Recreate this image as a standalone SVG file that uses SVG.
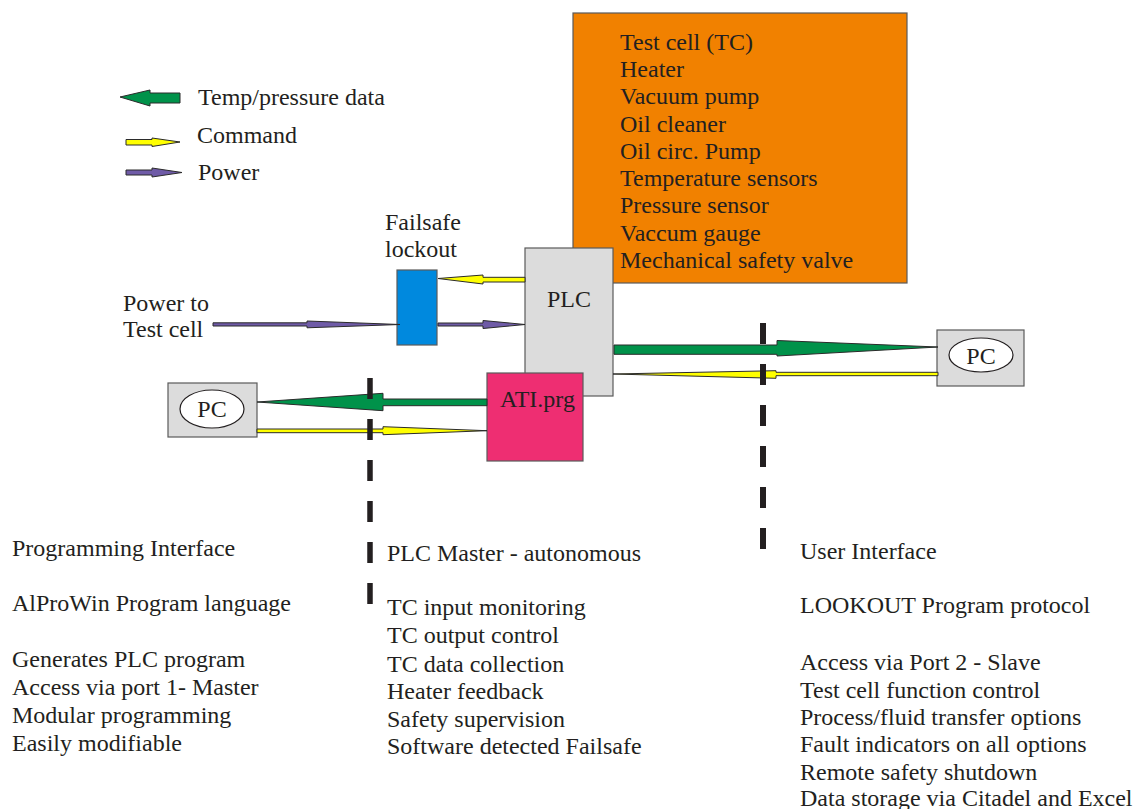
<svg xmlns="http://www.w3.org/2000/svg" width="1145" height="809" viewBox="0 0 1145 809">
<style>
text{font-family:"Liberation Serif","Times New Roman",serif;font-size:24px;fill:#231f20}
.box{stroke:#5a5a5a;stroke-width:1.2}
.gray{fill:#dcdcdc}
.arr{stroke:#2b2b2b;stroke-width:1;stroke-linejoin:miter}
.g{fill:#00924a}
.y{fill:#ffff00}
.p{fill:#6f5ba7}
.dash{stroke:#231f20;stroke-dasharray:21 20}
.ell{fill:#ffffff;stroke:#231f20;stroke-width:1.2}
.mid{text-anchor:middle}
</style>
<rect width="1145" height="809" fill="#ffffff"/>

<g id="legend">
  <polygon class="arr g" points="120,97 150,90 150,93 180,93 180,103 150,103 150,106"/>
  <text x="198" y="105">Temp/pressure data</text>
  <polygon class="arr y" points="126,139.5 152,139.5 152,138 180,142 152,146.5 152,145 126,145"/>
  <text x="197" y="143">Command</text>
  <polygon class="arr p" points="126,170 152,170 152,168 182,172.5 152,177 152,175 126,175"/>
  <text x="198" y="180">Power</text>
</g>

<g id="testcell">
  <rect class="box" x="573" y="13" width="334" height="270" fill="#f18100"/>
  <text x="620" y="50">Test cell (TC)</text>
  <text x="620" y="77">Heater</text>
  <text x="620" y="104">Vacuum pump</text>
  <text x="620" y="131.5">Oil cleaner</text>
  <text x="620" y="158.5">Oil circ. Pump</text>
  <text x="620" y="186">Temperature sensors</text>
  <text x="620" y="213">Pressure sensor</text>
  <text x="620" y="240.5">Vaccum gauge</text>
  <text x="620" y="268">Mechanical safety valve</text>
</g>

<g id="plc">
  <rect class="box gray" x="525" y="248" width="88" height="148"/>
  <text class="mid" x="569" y="307">PLC</text>
</g>

<g id="failsafe">
  <text x="385" y="230">Failsafe</text>
  <text x="385" y="257">lockout</text>
  <rect class="box" x="397" y="270" width="40" height="75" fill="#0089de"/>
</g>

<g id="power-label">
  <text x="123" y="311">Power to</text>
  <text x="123" y="337">Test cell</text>
</g>

<g id="ati">
  <rect class="box" x="487" y="373" width="96" height="88" fill="#ee2e72"/>
  <text x="500" y="407">ATI.prg</text>
</g>

<g id="pc-left">
  <rect class="box gray" x="168" y="383" width="89" height="54"/>
  <ellipse class="ell" cx="212" cy="409" rx="32" ry="19"/>
  <text class="mid" x="212" y="417">PC</text>
</g>

<g id="pc-right">
  <rect class="box gray" x="937" y="330" width="87" height="56"/>
  <ellipse class="ell" cx="981" cy="355" rx="32" ry="17"/>
  <text class="mid" x="981" y="364">PC</text>
</g>

<g id="connectors">
  <polygon class="arr p" points="213,322.8 307,322.8 307,321 400,324.5 307,327.8 307,326 213,326"/>
  <polygon class="arr p" points="438,323 483,323 483,320.5 525,324.5 483,328.5 483,326 438,326"/>
  <polygon class="arr y" points="525,277.3 483,277.3 483,275 438,278.5 483,284 483,282 525,282"/>
  <polygon class="arr g" points="614,345 777,345 777,340.5 938,347 777,356 777,354.3 614,354.3"/>
  <polygon class="arr y" points="938,372.3 776,372.3 776,370.7 613,374 776,378.3 776,375.7 938,375.7"/>
  <polygon class="arr g" points="487,399 383,399 383,393.3 257,402 383,410.7 383,405.7 487,405.7"/>
  <polygon class="arr y" points="257,429 383,429 383,426.7 487,430.7 383,434.7 383,432.7 257,432.7"/>
</g>

<g id="dividers">
  <line class="dash" x1="370" y1="378" x2="370" y2="604" stroke-width="5.5"/>
  <line class="dash" x1="763" y1="323" x2="763" y2="549" stroke-width="6"/>
</g>

<g id="col-left">
  <text x="12" y="556">Programming Interface</text>
  <text x="12" y="611">AlProWin Program language</text>
  <text x="12" y="667">Generates PLC program</text>
  <text x="12" y="695">Access via port 1- Master</text>
  <text x="12" y="723">Modular programming</text>
  <text x="12" y="751">Easily modifiable</text>
</g>

<g id="col-mid">
  <text x="387" y="561">PLC Master - autonomous</text>
  <text x="387" y="615">TC input monitoring</text>
  <text x="387" y="643">TC output control</text>
  <text x="387" y="671.5">TC data collection</text>
  <text x="387" y="699">Heater feedback</text>
  <text x="387" y="726.5">Safety supervision</text>
  <text x="387" y="754">Software detected Failsafe</text>
</g>

<g id="col-right">
  <text x="800" y="559">User Interface</text>
  <text x="800" y="613">LOOKOUT Program protocol</text>
  <text x="800" y="670">Access via Port 2 - Slave</text>
  <text x="800" y="697.5">Test cell function control</text>
  <text x="800" y="725">Process/fluid transfer options</text>
  <text x="800" y="752">Fault indicators on all options</text>
  <text x="800" y="779.5">Remote safety shutdown</text>
  <text x="800" y="806">Data storage via Citadel and Excel</text>
</g>
</svg>
